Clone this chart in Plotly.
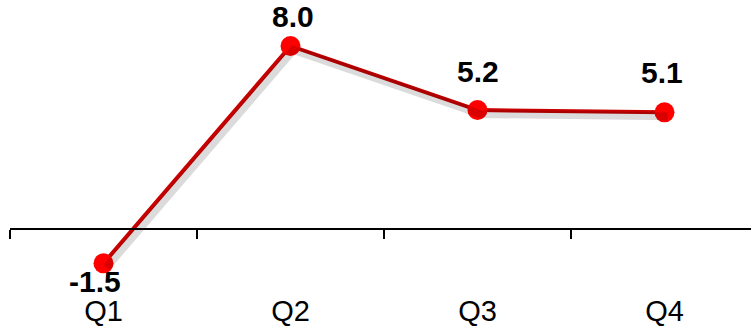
import plotly.graph_objects as go

categories = ["Q1", "Q2", "Q3", "Q4"]
values = [-1.5, 8.0, 5.2, 5.1]
labels = ["-1.5", "8.0", "5.2", "5.1"]
# label offsets from the point, in pixels (x, y; y up)
label_dx = [-9, 2, 0, -2]
label_dy = [-18, 29.5, 39, 39.5]

W, H = 751, 328
ML = 10
xr = [-0.5, 3.4626]
yr = [-4.328, 10.01]
# shadow offset: 3px right, 4px down expressed as range shifts
sx = 3 * (xr[1] - xr[0]) / (W - ML)
sy = 4 * (yr[1] - yr[0]) / H

FONT = "Liberation Sans, Arial"

fig = go.Figure()
fig.add_trace(go.Scatter(x=categories, y=values, mode="lines",
                         line=dict(color="rgba(0,0,0,0.14)", width=8),
                         xaxis="x2", yaxis="y2", hoverinfo="skip", showlegend=False))
fig.add_trace(go.Scatter(x=categories, y=values, mode="lines+markers",
                         line=dict(color="#C80000", width=4),
                         marker=dict(color="#FF0000", size=20),
                         cliponaxis=False, showlegend=False))

for c, v, t, ddx, ddy in zip(categories, values, labels, label_dx, label_dy):
    fig.add_annotation(x=c, y=v, text=t, showarrow=False, xshift=ddx, yshift=ddy,
                       xanchor="center", yanchor="middle", borderpad=0,
                       font=dict(family=FONT, size=30, color="black", weight="bold"))

fig.update_layout(
    width=W, height=H, margin=dict(l=ML, r=0, t=0, b=0),
    paper_bgcolor="white", plot_bgcolor="white",
    xaxis=dict(type="category", range=xr, anchor="free", position=0.3018,
               showline=True, linecolor="black", linewidth=2,
               ticks="outside", tickson="boundaries", ticklen=9, tickwidth=2, tickcolor="black",
               showgrid=False, zeroline=False, ticklabelstandoff=56,
               tickfont=dict(family=FONT, size=29, color="black")),
    yaxis=dict(range=yr, visible=False, showgrid=False, zeroline=False),
    xaxis2=dict(type="category", range=[xr[0] - sx, xr[1] - sx], overlaying="x",
                anchor="y2", visible=False),
    yaxis2=dict(range=[yr[0] + sy, yr[1] + sy], overlaying="y", anchor="x2", visible=False),
)

fig.write_html("out.html")
